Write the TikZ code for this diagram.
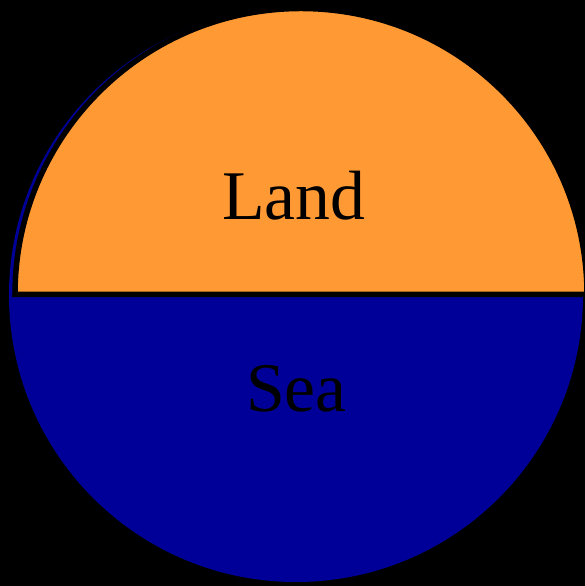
\documentclass[tikz,border=0pt]{standalone}
\usepackage{fontspec}
\setmainfont{Liberation Serif}
\definecolor{LandOrange}{RGB}{255,153,51}
\definecolor{SeaBlue}{RGB}{0,0,153}

\begin{document}
\begin{tikzpicture}[
    x=1bp, y=1bp,
    lbl/.style={font=\fontsize{70}{84}\selectfont, anchor=base, inner sep=0pt, text=black},
]
\useasboundingbox (0,0) rectangle (585,586);
\fill[black] (0,0) rectangle (585,586);

% sea disc behind
\fill[SeaBlue] (296,291) circle[radius=287bp];
% land half on top, with its outline
\filldraw[fill=LandOrange, draw=black, line width=5.5bp]
    (15,291.5) arc[start angle=180, end angle=0, radius=286bp] -- cycle;

\node[lbl] (land) at (294,366) {Land};
\node[lbl] (sea) at (296.5,174) {Sea};
\end{tikzpicture}
\end{document}
